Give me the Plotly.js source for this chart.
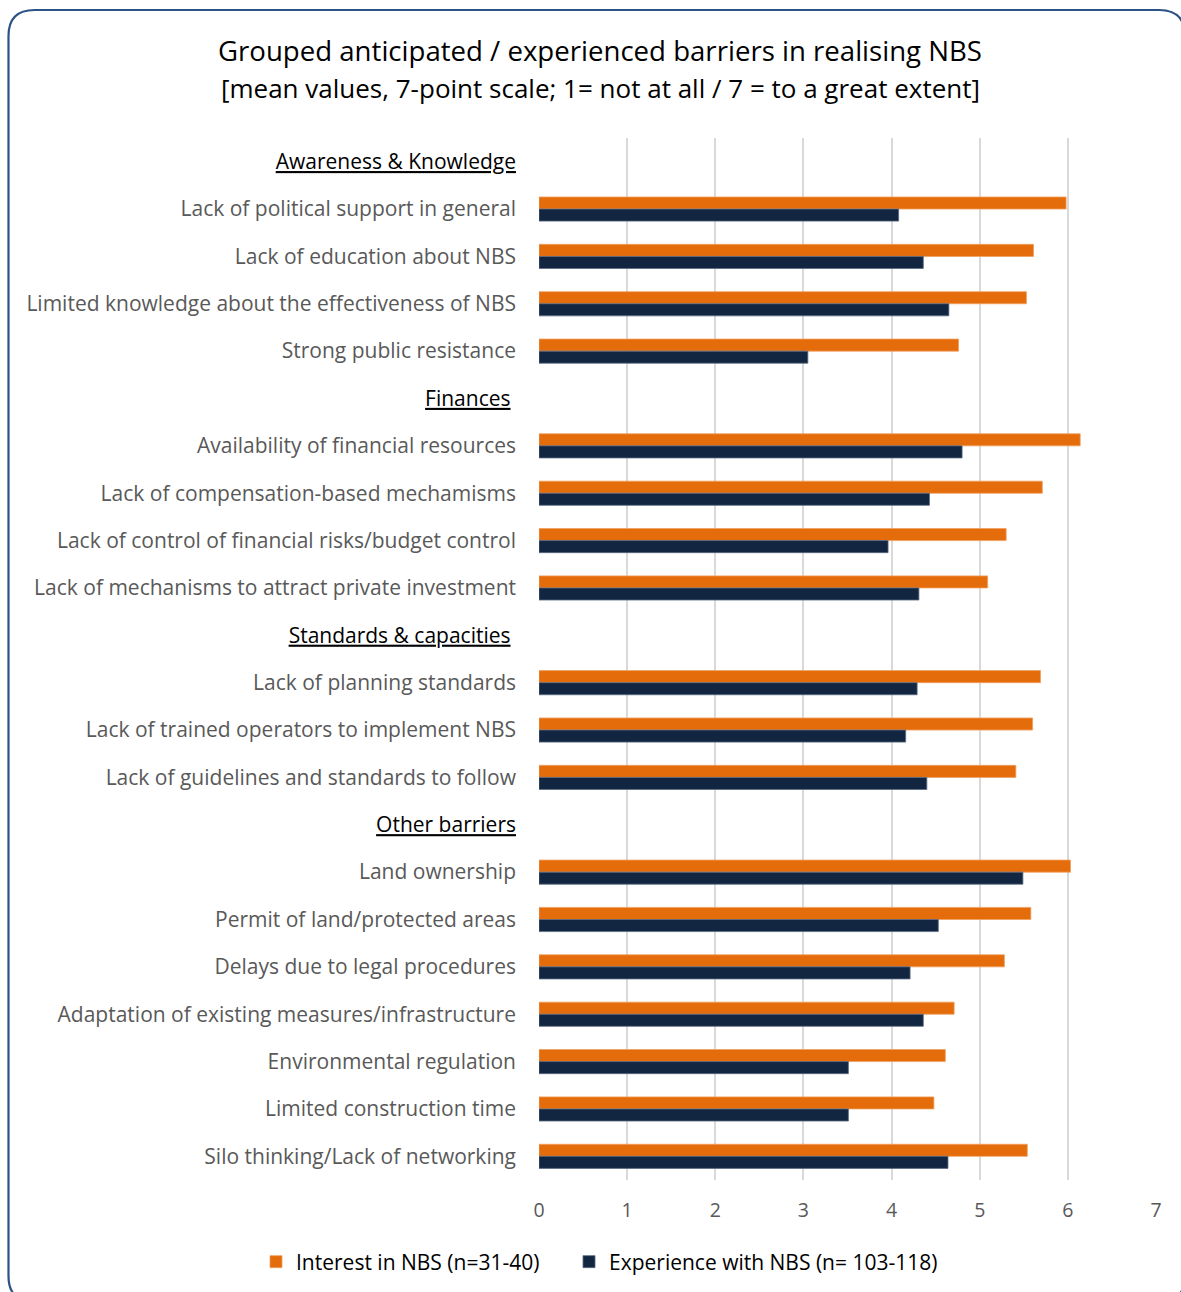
<!DOCTYPE html>
<html>
<head>
<meta charset="utf-8">
<script src="https://cdn.plot.ly/plotly-3.0.1.min.js"></script>
<style>
  html, body { margin: 0; padding: 0; background: #ffffff; }
  #chart { width: 1181px; height: 1292px; }
</style>
</head>
<body>
<div id="chart"></div>
<script>
// ---- data ----
const categories = [
  "H1",
  "Lack of political support in general",
  "Lack of education about NBS",
  "Limited knowledge about the effectiveness of NBS",
  "Strong public resistance",
  "H2",
  "Availability of financial resources",
  "Lack of compensation-based mechamisms",
  "Lack of control of financial risks/budget control",
  "Lack of mechanisms to attract private investment",
  "H3",
  "Lack of planning standards",
  "Lack of trained operators to implement NBS",
  "Lack of guidelines and standards to follow",
  "H4",
  "Land ownership",
  "Permit of land/protected areas",
  "Delays due to legal procedures",
  "Adaptation of existing measures/infrastructure",
  "Environmental regulation",
  "Limited construction time",
  "Silo thinking/Lack of networking"
];
const groupHeaders = {
  "H1": "Awareness & Knowledge",
  "H2": "Finances",
  "H3": "Standards & capacities",
  "H4": "Other barriers"
};
const interestValues = [
  null, 5.98, 5.61, 5.53, 4.76,
  null, 6.14, 5.71, 5.30, 5.09,
  null, 5.69, 5.60, 5.41,
  null, 6.03, 5.58, 5.28, 4.71, 4.61, 4.48, 5.54
];
const experienceValues = [
  null, 4.08, 4.36, 4.65, 3.05,
  null, 4.80, 4.43, 3.96, 4.31,
  null, 4.29, 4.16, 4.40,
  null, 5.49, 4.53, 4.21, 4.36, 3.51, 3.51, 4.64
];
const seriesNames = ["Interest in NBS (n=31-40)", "Experience with NBS (n= 103-118)"];
const xTicks = [0, 1, 2, 3, 4, 5, 6, 7];
const titleLine1 = "Grouped anticipated / experienced barriers in realising NBS";
const titleLine2 = "[mean values, 7-point scale; 1= not at all / 7 = to a great extent]";

// ---- layout constants ----
const W = 1181, H = 1292;
const M = { l: 539, r: 25, t: 138, b: 112 };
const plotW = W - M.l - M.r, plotH = H - M.t - M.b;
const px2x = p => (p - M.l) / plotW;
const py2y = p => 1 - (p - M.t) / plotH;

// small right-padding for some headers (as in the original layout)
const headerPad = { "H1": "", "H2": "\u00A0", "H3": "\u00A0", "H4": "" };
const tickText = categories.map(c =>
  groupHeaders[c]
    ? '<span style="color:#000000"><u>' + groupHeaders[c] + '</u>' + headerPad[c] + '</span>'
    : c
);

const FONT = "'Open Sans', 'Noto Sans', sans-serif";

const traces = [
  {
    type: "bar", orientation: "h",
    name: seriesNames[0],
    y: categories, x: interestValues,
    marker: { color: "#E46C0A", line: { color: "#F0A060", width: 0.8 } },
    legend: "legend",
    hoverinfo: "x+y"
  },
  {
    type: "bar", orientation: "h",
    name: seriesNames[1],
    y: categories, x: experienceValues,
    marker: { color: "#132641", line: { color: "#5A6A80", width: 0.8 } },
    legend: "legend2",
    hoverinfo: "x+y"
  }
];

// rounded frame (pixel corners converted to paper coordinates)
const L = 8.5, T = 10, R = 1185, B = 1302, r = 26;
function P(x, y) { return px2x(x).toFixed(5) + "," + py2y(y).toFixed(5); }
const framePath =
  "M" + P(L + r, T) + " L" + P(R - r, T) + " Q" + P(R, T) + " " + P(R, T + r) +
  " L" + P(R, B - r) + " Q" + P(R, B) + " " + P(R - r, B) +
  " L" + P(L + r, B) + " Q" + P(L, B) + " " + P(L, B - r) +
  " L" + P(L, T + r) + " Q" + P(L, T) + " " + P(L + r, T) + " Z";

const legendFont = { family: FONT, size: 21, color: "#000000" };

const layout = {
  width: W, height: H,
  margin: M,
  paper_bgcolor: "#ffffff",
  plot_bgcolor: "#ffffff",
  font: { family: FONT, color: "#595959", size: 21 },
  title: {
    text: titleLine1,
    font: { family: FONT, size: 27.6, color: "#000000" },
    xref: "container", x: 600 / W, xanchor: "center",
    yref: "container", y: 1 - 51 / H, yanchor: "middle"
  },
  annotations: [
    {
      text: titleLine2,
      xref: "paper", yref: "paper",
      x: px2x(600), y: py2y(88),
      xanchor: "center", yanchor: "middle",
      showarrow: false,
      font: { family: FONT, size: 26, color: "#000000" }
    }
  ],
  barmode: "group",
  bargap: 0.49,
  bargroupgap: 0,
  xaxis: {
    range: [0, 7],
    tickvals: xTicks,
    showgrid: true, gridcolor: "#D9D9D9", gridwidth: 2,
    zeroline: false,
    showline: false,
    ticks: "",
    ticklabelstandoff: 16,
    tickfont: { family: FONT, size: 19.5, color: "#595959" },
    fixedrange: true
  },
  yaxis: {
    type: "category",
    categoryorder: "array", categoryarray: categories,
    tickvals: categories, ticktext: tickText,
    range: [categories.length - 0.5, -0.5],
    showgrid: false, zeroline: false, showline: false,
    ticks: "",
    ticklabelstandoff: 22,
    tickfont: { family: FONT, size: 21, color: "#595959" },
    fixedrange: true
  },
  showlegend: true,
  legend: {
    orientation: "h",
    xref: "container", x: 256 / W, xanchor: "left",
    yref: "container", y: 1 - 1262 / H, yanchor: "middle",
    font: legendFont, itemwidth: 30, borderwidth: 0
  },
  legend2: {
    orientation: "h",
    xref: "container", x: 569 / W, xanchor: "left",
    yref: "container", y: 1 - 1262 / H, yanchor: "middle",
    font: legendFont, itemwidth: 30, borderwidth: 0
  },
  shapes: [
    {
      type: "path", xref: "paper", yref: "paper",
      path: framePath,
      line: { color: "#2C5387", width: 2.2 },
      fillcolor: "rgba(0,0,0,0)",
      layer: "above"
    }
  ]
};

Plotly.newPlot("chart", traces, layout, { displayModeBar: false, staticPlot: true });
</script>
</body>
</html>
